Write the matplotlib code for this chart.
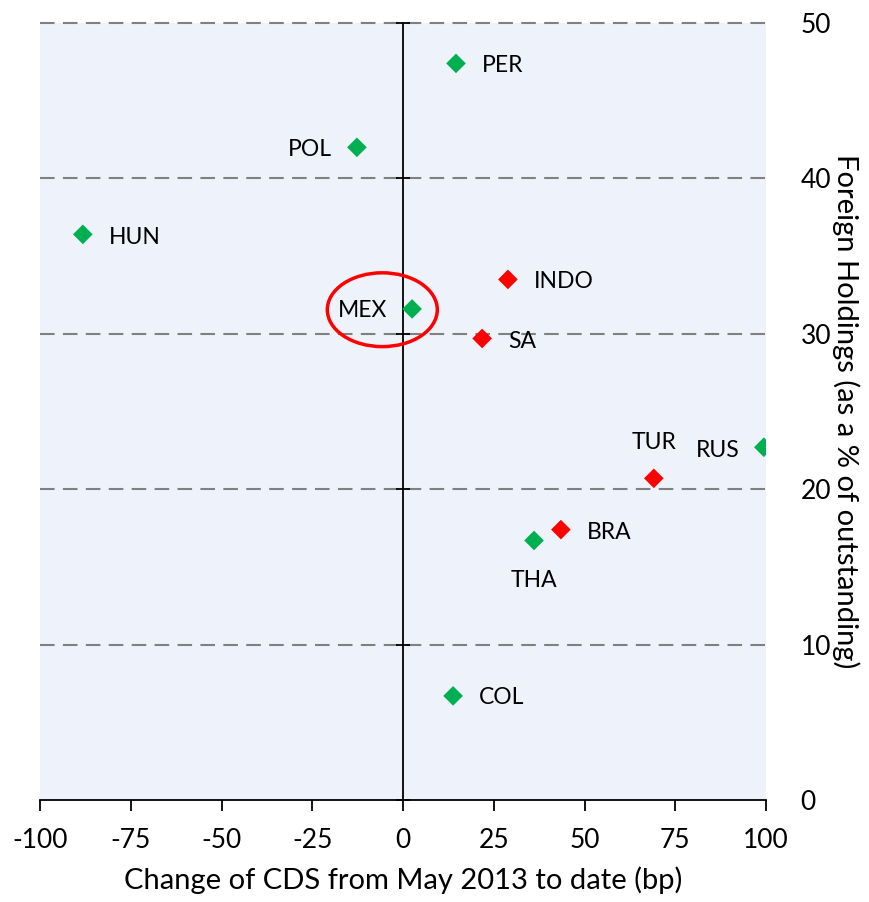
import matplotlib.pyplot as plt
from matplotlib.patches import Ellipse

plt.rcParams['font.family'] = ['Lato', 'DejaVu Sans']
plt.rcParams['axes.unicode_minus'] = False

# Länder, CDS-Änderung (bp) und Auslandsanteil (%)
countries = ['PER', 'POL', 'HUN', 'INDO', 'MEX', 'SA', 'RUS', 'TUR', 'BRA', 'THA', 'COL']
cds_change = [14.6, -12.7, -88.2, 28.9, 2.5, 21.8, 99.4, 69.1, 43.5, 36.1, 13.8]
foreign_holdings = [47.4, 42.0, 36.4, 33.5, 31.6, 29.7, 22.7, 20.7, 17.4, 16.7, 6.7]
colours = ['#00B050', '#00B050', '#00B050', '#FF0000', '#00B050', '#FF0000',
           '#00B050', '#FF0000', '#FF0000', '#00B050', '#00B050']

# label offsets in pixels
offsets = {'PER': (26, -2, 'left'), 'POL': (-25, -2, 'right'), 'HUN': (26, -3, 'left'),
           'INDO': (26, -2, 'left'), 'MEX': (-25, -2, 'right'), 'SA': (26, -3, 'left'),
           'RUS': (-24, -3, 'right'), 'TUR': (0, 36, 'center'), 'BRA': (26, -3, 'left'),
           'THA': (0, -40, 'center'), 'COL': (26, -2, 'left')}

fig = plt.figure(figsize=(8.7, 9.02), dpi=100)
ax = fig.add_axes([40 / 870, 1 - 800 / 902, 726 / 870, 777 / 902])
ax.set_facecolor('#EEF2FA')

ax.scatter(cds_change, foreign_holdings, marker='D', s=100, c=colours, zorder=4, linewidths=0)

for name, x, y in zip(countries, cds_change, foreign_holdings):
    dx, dy, ha = offsets[name]
    ax.annotate(name, (x, y), xytext=(dx, dy), textcoords='offset pixels',
                ha=ha, va='center', fontsize=16.5)

# red circle round Mexico
ax.add_patch(Ellipse((-5.7, 31.55), 30.3, 4.75, fill=False, edgecolor='#FF0000', lw=2.5, zorder=5))

ax.set_xlim(-100, 100)
ax.set_ylim(0, 50)
ax.set_xticks(range(-100, 101, 25))
ax.set_yticks(range(0, 51, 10))

for yv in range(10, 51, 10):
    ax.axhline(yv, color='#808080', lw=1.5, dashes=(7, 4), zorder=1, clip_on=False)

ax.spines['top'].set_visible(False)
ax.spines['right'].set_visible(False)
ax.spines['left'].set_position(('data', 0))
ax.spines['left'].set_zorder(3)
ax.spines['bottom'].set_linewidth(1.3)
ax.spines['left'].set_linewidth(1.3)

ax.tick_params(axis='x', direction='out', length=8, width=1.3, labelsize=19, pad=12)
ax.tick_params(axis='y', left=True, right=False, labelleft=False, labelright=True,
               direction='inout', length=10, width=1.3, labelsize=19, pad=20)
for lab in ax.get_yticklabels():
    lab.set_horizontalalignment('left')

ax.set_xlabel('Change of CDS from May 2013 to date (bp)', fontsize=21, labelpad=10)
ax.yaxis.set_label_position('right')
ax.set_ylabel('Foreign Holdings (as a % of outstanding)', fontsize=21, rotation=270, labelpad=20)

fig.savefig('out.png', dpi=100)
